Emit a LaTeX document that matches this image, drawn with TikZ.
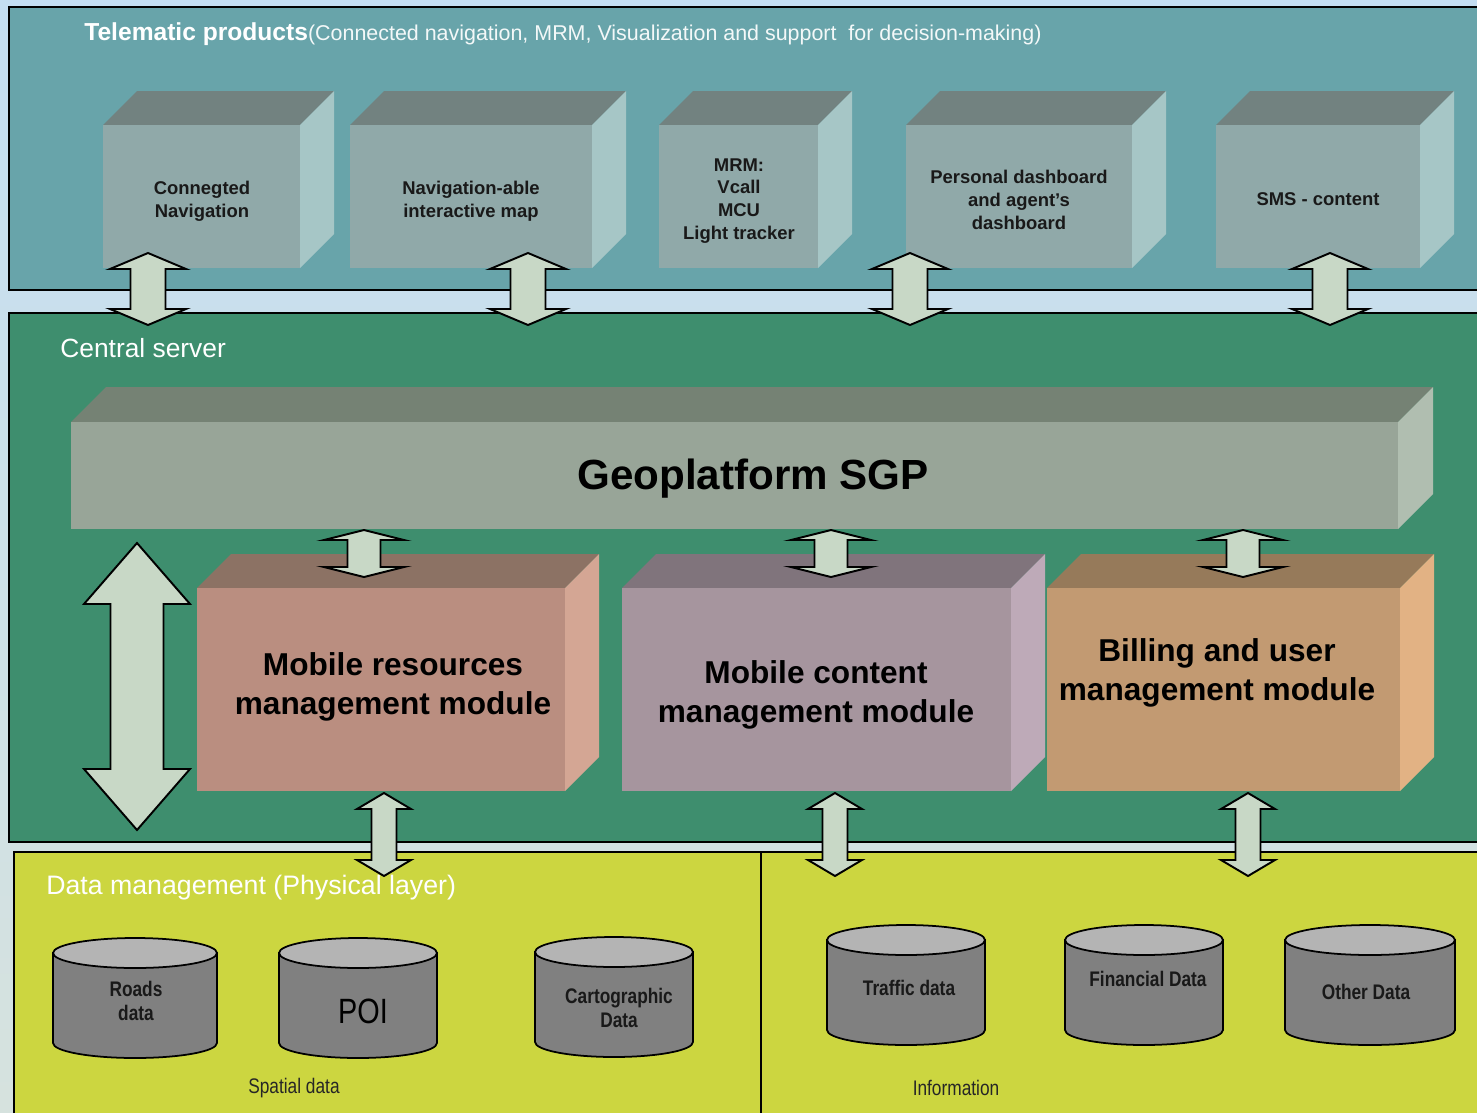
\documentclass[tikz,border=0pt]{standalone}
\usepackage{fontspec}
\setmainfont{Liberation Sans}
\newfontfamily\narrowfont[FakeStretch=0.82]{Liberation Sans}
\usepackage{xcolor}
\definecolor{skyTop}{RGB}{196,222,242}
\definecolor{skyMid}{RGB}{160,201,232}
\definecolor{skyLow}{RGB}{214,226,222}
\definecolor{telematic}{RGB}{104,164,170}
\definecolor{server}{RGB}{62,142,110}
\definecolor{datalayer}{RGB}{204,214,64}
\definecolor{prodFront}{RGB}{144,169,169}
\definecolor{prodTop}{RGB}{114,130,128}
\definecolor{prodSide}{RGB}{166,198,198}
\definecolor{geoFront}{RGB}{152,165,152}
\definecolor{geoTop}{RGB}{117,130,116}
\definecolor{geoSide}{RGB}{176,190,176}
\definecolor{mrFront}{RGB}{186,142,128}
\definecolor{mrTop}{RGB}{140,114,100}
\definecolor{mrSide}{RGB}{212,166,148}
\definecolor{mcFront}{RGB}{166,149,158}
\definecolor{mcTop}{RGB}{128,116,124}
\definecolor{mcSide}{RGB}{190,170,184}
\definecolor{buFront}{RGB}{194,154,114}
\definecolor{buTop}{RGB}{150,122,90}
\definecolor{buSide}{RGB}{226,178,132}
\definecolor{arrowFill}{RGB}{200,216,198}
\definecolor{cylBody}{RGB}{128,128,128}
\definecolor{cylCap}{RGB}{180,180,180}
\usepackage{tikz}
\usetikzlibrary{calc,positioning}
\tikzstyle{panel}     =[draw=black, line width=1.4pt]
\tikzstyle{blockarrow}=[draw=black, fill=arrowFill, line width=1.1pt,
                        line join=miter]
\tikzstyle{cylbody}   =[draw=black, fill=cylBody, line width=1pt]
\tikzstyle{cyltop}    =[draw=black, fill=cylCap, line width=1pt]
\tikzstyle{prodlabel} =[align=center, text=black!90,
                        font=\fontsize{10.5}{13}\selectfont\bfseries]
\tikzstyle{modlabel}  =[align=center, text=black,
                        font=\fontsize{18}{22.2}\selectfont\bfseries]
\tikzstyle{dblabel}   =[align=center, text=black!90,
                        font=\fontsize{12}{13.5}\selectfont\narrowfont\bfseries]
\tikzstyle{layerlabel}=[anchor=base west, text=white, inner sep=0pt,
                        font=\fontsize{15}{18}\selectfont]
\tikzstyle{grouplabel}=[text=black!85,
                        font=\fontsize{12}{14}\selectfont\narrowfont]

% box with top and side face: colour prefix, x1, y1, x2, y2, depth
\newcommand{\cuboid}[6]{%
  \fill[#1Top] (#2,#3) -- (#2+#6,#3-#6) -- (#4+#6,#3-#6) -- (#4,#3) -- cycle;
  \fill[#1Side] (#4,#3) -- (#4+#6,#3-#6) -- (#4+#6,#5-#6) -- (#4,#5) -- cycle;
  \fill[#1Front] (#2,#3) rectangle (#4,#5);}
% vertical double arrow: x, top tip, bottom tip, half shaft, half head, head length
\newcommand{\dblarrow}[6]{%
  \draw[blockarrow] (#1,#2) -- (#1+#5,#2+#6) -- (#1+#4,#2+#6) -- (#1+#4,#3-#6)
    -- (#1+#5,#3-#6) -- (#1,#3) -- (#1-#5,#3-#6) -- (#1-#4,#3-#6)
    -- (#1-#4,#2+#6) -- (#1-#5,#2+#6) -- cycle;}
% database: x1, x2, top centre, bottom centre, y radius
\newcommand{\database}[5]{%
  \filldraw[cylbody] (#1,#3) -- (#1,#4)
    arc[start angle=180, end angle=0, x radius={(#2-#1)/2}, y radius=#5]
    -- (#2,#3) -- cycle;
  \filldraw[cyltop] ({(#1+#2)/2},#3) ellipse[x radius={(#2-#1)/2}, y radius=#5];}

\begin{document}
\begin{tikzpicture}[x=0.02cm, y=-0.02cm]
    \useasboundingbox (0,0) rectangle (1477,1112);
    \clip (0,0) rectangle (1477,1112);
    \shade[top color=skyTop, middle color=skyMid, bottom color=skyLow]
        (0,0) rectangle (1477,1112);

    % layers
    \draw[panel, fill=telematic] (9,7) rectangle (1500,290);
    \draw[panel, fill=server] (9,313) rectangle (1500,842);
    \draw[panel, fill=datalayer] (14,852) rectangle (1500,1130);
    \draw[panel] (761,852) -- (761,1115);

    \node[layerlabel] (telematic) at (84,40) {{\fontsize{14}{17}\selectfont\bfseries Telematic products}{\fontsize{12.2}{14}\selectfont\color{white!92!telematic}(Connected navigation, MRM, Visualization and support~ for decision-making)}};
    \node[layerlabel] (server) at (60,357) {Central server};
    \node[layerlabel, font=\fontsize{15.2}{18}\selectfont] (datamgmt) at (46,894) {Data management (Physical layer)};

    % telematic products
    \foreach \xa/\xb in {103/300,350/592,659/818,906/1132,1216/1420}
        \cuboid{prod}{\xa}{125}{\xb}{268}{34};
    \node[prodlabel] (connnav) at (202,201) {Connegted\\Navigation};
    \node[prodlabel] (navmap) at (471,201) {Navigation-able\\interactive map};
    \node[prodlabel] (mrm) at (739,201) {MRM:\\Vcall\\MCU\\Light tracker};
    \node[prodlabel] (dashboard) at (1019,200) {Personal dashboard\\and agent's\\dashboard};
    \node[prodlabel] (sms) at (1318,199) {SMS - content};

    % central server
    \cuboid{geo}{71}{422}{1398}{529}{35};
    \node[font=\fontsize{24}{28}\selectfont\bfseries] (geoplatform) at (753,479) {Geoplatform SGP};

    \cuboid{mr}{197}{588}{565}{791}{34};
    \cuboid{mc}{622}{588}{1011}{791}{34};
    \cuboid{bu}{1047}{588}{1400}{791}{34};
    \node[modlabel] (mobres) at (393,687) {Mobile resources\\management module};
    \node[modlabel] (mobcont) at (816,695) {Mobile content\\management module};
    \node[modlabel] (billing) at (1217,673) {Billing and user\\management module};

    % data management
    \database{53}{217}{953}{1043}{15}
    \database{279}{437}{953}{1043}{15}
    \database{535}{693}{952}{1042}{15}
    \database{827}{985}{940}{1030}{15}
    \database{1065}{1223}{940}{1030}{15}
    \database{1285}{1455}{940}{1030}{15}
    \node[dblabel] (roads) at (136,1001) {Roads\\data};
    \node[dblabel, text=black, font=\fontsize{20}{22}\selectfont\narrowfont] (poi) at (363,1011) {POI};
    \node[dblabel] (carto) at (619,1008) {Cartographic\\Data};
    \node[dblabel] (traffic) at (909,988) {Traffic data};
    \node[dblabel] (financial) at (1148,979) {Financial Data};
    \node[dblabel] (other) at (1366,992) {Other Data};
    \node[grouplabel] (spatial) at (294,1088) {Spatial data};
    \node[grouplabel] (information) at (956,1088) {Information};

    % arrows between layers
    \foreach \x in {148,528,910,1330}
        \dblarrow{\x}{253}{325}{17.5}{38}{16};
    \foreach \x in {364,831,1243}
        \dblarrow{\x}{530}{577}{16.5}{40}{10};
    \foreach \x in {384,835,1248}
        \dblarrow{\x}{793}{876}{12.5}{27}{16};
    \dblarrow{137}{543}{830}{26.5}{53}{61};

\end{tikzpicture}
\end{document}
